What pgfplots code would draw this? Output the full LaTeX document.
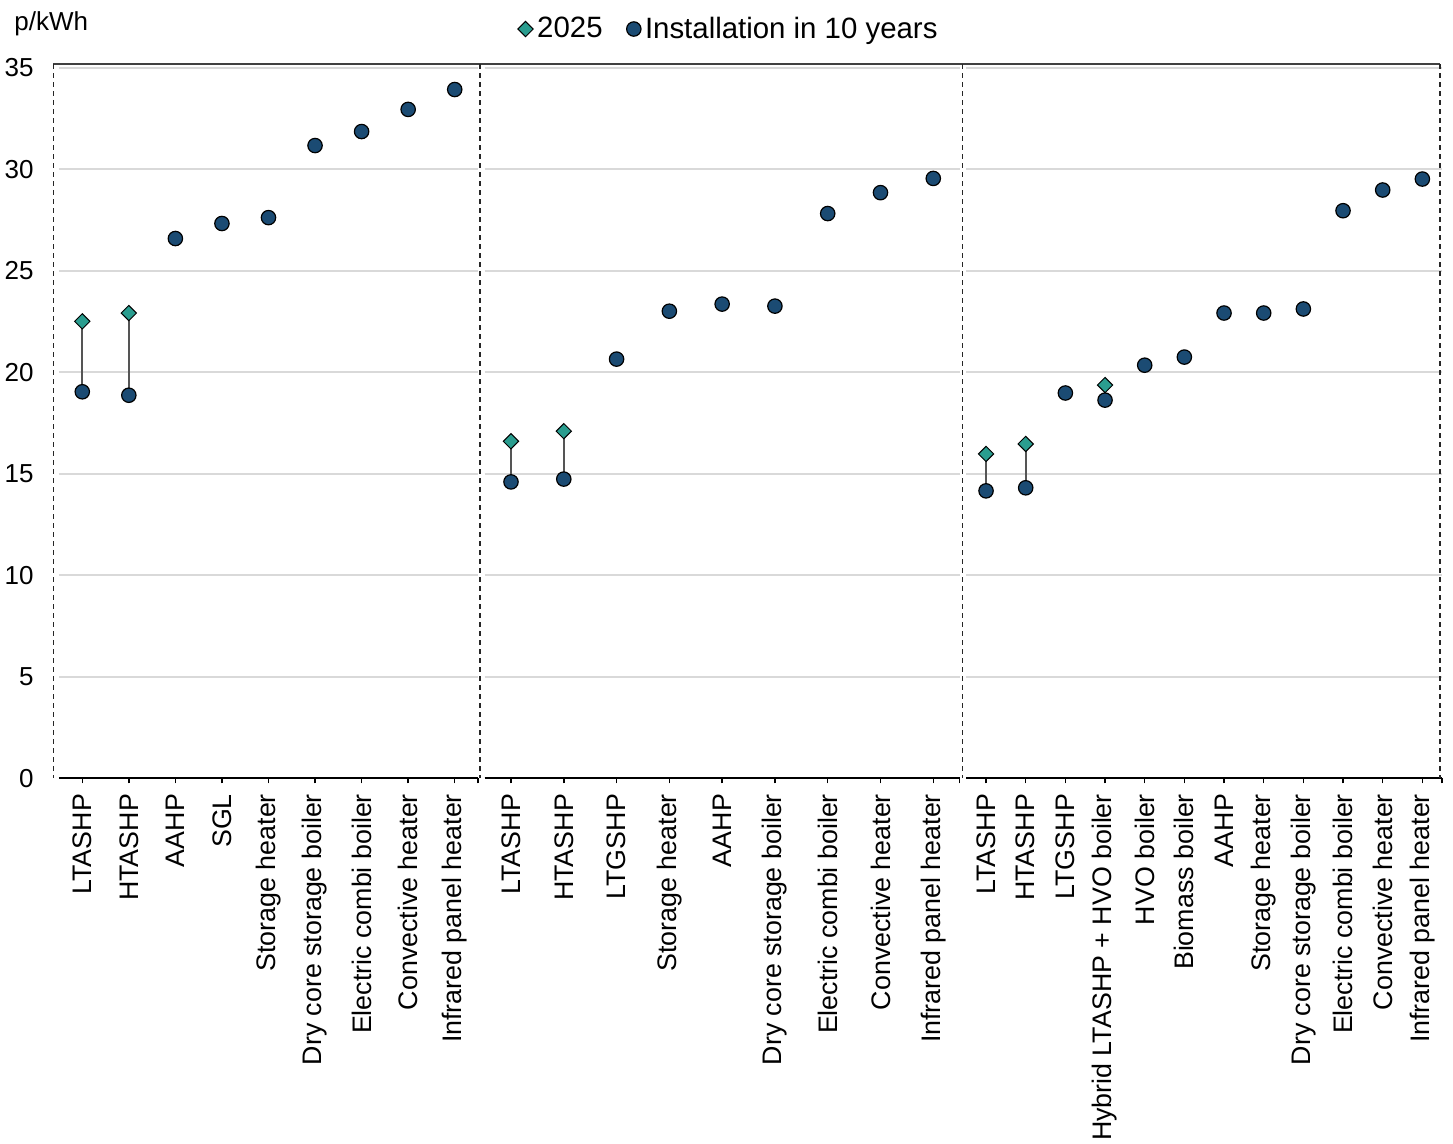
\documentclass[border=0pt]{standalone}
\usepackage{pgfplots}
\pgfplotsset{compat=1.18}
\usepackage{fontspec}
\setmainfont{Liberation Sans}
\definecolor{navy}{HTML}{1B4B73}
\definecolor{tealm}{HTML}{2A9D8F}
\definecolor{gridc}{HTML}{D9D9D9}
\definecolor{connc}{HTML}{555555}

\pgfplotsset{
  panel/.style={
    scale only axis, height=355.25pt,
    ymin=0, ymax=35, ytick={0,5,...,35},
    ymajorgrids, grid style={gridc, line width=0.9pt},
    axis x line*=bottom, axis y line*=left,
    y axis line style={draw=none},
    x axis line style={black, line width=0.9pt},
    ytick style={draw=none},
    xtick style={black, line width=0.75pt},
    tick align=outside, major tick length=2.5pt,
    xmin=-0.5,
    /pgf/number format/assume math mode=true,
    yticklabel style={font=\fontsize{13}{15}\selectfont, anchor=east, inner sep=0pt, xshift=-10pt},
    xticklabel style={font=\fontsize{13.4}{15}\selectfont, rotate=90, anchor=east, inner sep=0pt, inner xsep=5.2pt},
    clip=false,
  },
  connline/.style={connc, line width=0.8pt, mark=none, unbounded coords=jump, forget plot},
  dia/.style={only marks, mark=square*, mark size=2.7pt, mark options={rotate=45, fill=tealm, draw=black, line width=0.5pt},
    legend image code/.code={\draw[##1] plot coordinates {(0pt,0pt)};}},
  circ/.style={only marks, mark=*, mark size=3.6pt, mark options={fill=navy, draw=black, line width=0.6pt},
    legend image code/.code={\draw[##1] plot coordinates {(0pt,0pt)};}},
}

\begin{document}
\begin{tikzpicture}
\path[use as bounding box] (0pt,0pt) rectangle (726.5pt,-572pt);

% Panel 1
\begin{axis}[panel, at={(29.5pt,-389.15pt)}, anchor=south west, width=209.5pt,
  xmax=8.5, xtick={0,...,8}, extra x ticks={8.5}, extra x tick labels={},
  xticklabels={LTASHP,HTASHP,AAHP,SGL,Storage heater,Dry core storage boiler,Electric combi boiler,Convective heater,Infrared panel heater}]
\addplot[connline] coordinates {(0,22.51) (0,19.04) (0,nan) (1,22.92) (1,18.87)};
\addplot[dia] coordinates {(0,22.51) (1,22.92)};
\addplot[circ] coordinates {(0,19.04) (1,18.87) (2,26.59) (3,27.33) (4,27.62) (5,31.17) (6,31.86) (7,32.95) (8,33.93)};
\end{axis}

% Panel 2
\begin{axis}[panel, at={(242.3pt,-389.15pt)}, anchor=south west, width=237.55pt,
  xmax=8.5, xtick={0,...,8}, extra x ticks={8.5}, extra x tick labels={},
  yticklabels={},
  xticklabels={LTASHP,HTASHP,LTGSHP,Storage heater,AAHP,Dry core storage boiler,Electric combi boiler,Convective heater,Infrared panel heater},
  legend style={at={(0.516,1.0546)}, anchor=center, draw=none, fill=none, inner sep=0pt,
    legend columns=2, font=\fontsize{14.7}{17}\selectfont,
    /tikz/every even column/.append style={column sep=10pt}},
  legend cell align=left]
\addplot[connline] coordinates {(0,16.60) (0,14.60) (0,nan) (1,17.10) (1,14.74)};
\addplot[dia] coordinates {(0,16.60) (1,17.10)};
\addlegendentry{2025}
\addplot[circ] coordinates {(0,14.60) (1,14.74) (2,20.65) (3,23.01) (4,23.36) (5,23.26) (6,27.82) (7,28.85) (8,29.55)};
\addlegendentry{Installation in 10 years}
\end{axis}

% Panel 3
\begin{axis}[panel, at={(483.1pt,-389.15pt)}, anchor=south west, width=238pt,
  xmax=11.5, xtick={0,...,11}, extra x ticks={11.5}, extra x tick labels={},
  yticklabels={},
  xticklabels={LTASHP,HTASHP,LTGSHP,Hybrid LTASHP + HVO boiler,HVO boiler,Biomass boiler,AAHP,Storage heater,Dry core storage boiler,Electric combi boiler,Convective heater,Infrared panel heater}]
\addplot[connline] coordinates {(0,15.98) (0,14.16) (0,nan) (1,16.47) (1,14.31) (1,nan) (3,19.37) (3,18.63)};
\addplot[dia] coordinates {(0,15.98) (1,16.47) (3,19.37)};
\addplot[circ] coordinates {(0,14.16) (1,14.31) (2,18.98) (3,18.63) (4,20.35) (5,20.75) (6,22.92) (7,22.92) (8,23.12) (9,27.96) (10,28.98) (11,29.52)};
\end{axis}

% frame: top line and dashed separators
\draw[black!75, line width=1pt] (26.65pt,-32.25pt) -- (720pt,-32.25pt);
\foreach \xx in {26.65,240.0,481.15,720.0}
  \draw[black!85, line width=0.55pt, dash pattern=on 2.5pt off 2pt] (\xx pt,-32.25pt) -- (\xx pt,-389pt);

\node[anchor=base west, inner sep=0pt, font=\fontsize{13}{15}\selectfont] at (7pt,-15.5pt) {p/kWh};
\end{tikzpicture}
\end{document}
